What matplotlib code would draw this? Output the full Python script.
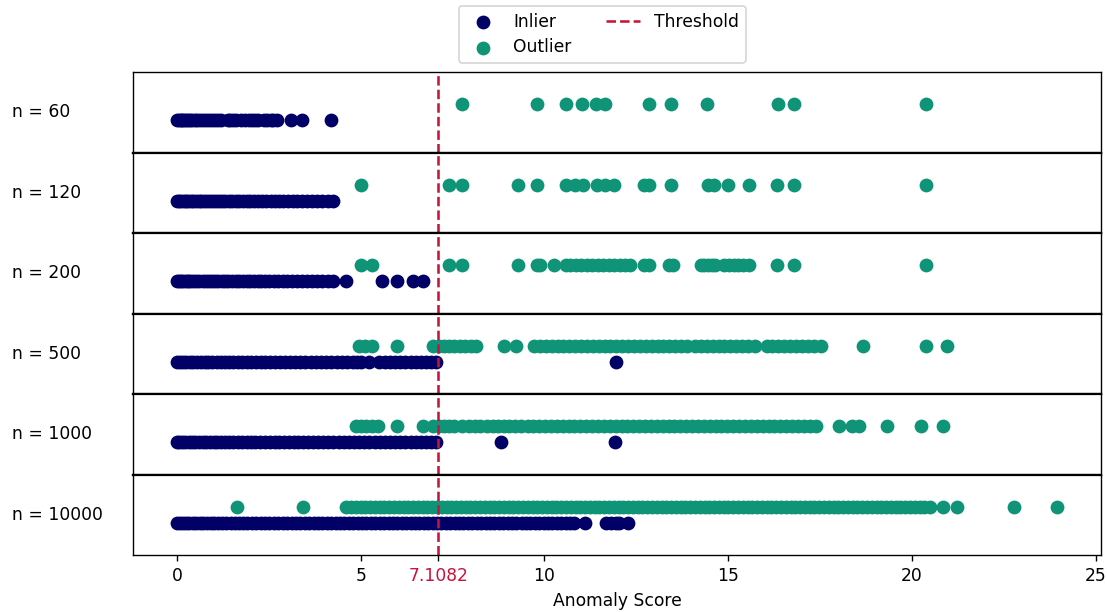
import matplotlib
matplotlib.use("Agg")
import matplotlib.pyplot as plt
import numpy as np

threshold = 7.1082
labels = ["n = 60", "n = 120", "n = 200", "n = 500", "n = 1000", "n = 10000"]

# anomaly scores per sample size, split by the predicted class
inl_60 = [0.0, 0.05, 0.1, 0.14, 0.2, 0.26, 0.3, 0.35, 0.42, 0.5, 0.55, 0.62, 0.7, 0.8, 0.88,
          0.95, 1.05, 1.12, 1.2, 1.38, 1.45, 1.52, 1.6, 1.75, 1.85, 1.95, 2.05, 2.12, 2.2,
          2.38, 2.45, 2.55, 2.62, 2.72, 3.1, 3.4, 4.2]
out_60 = [7.76, 9.79, 10.59, 11.03, 11.41, 11.65, 12.84, 13.44, 14.43, 16.35, 16.79, 20.38]

inl_120 = [0.0, 0.06, 0.12, 0.19, 0.25, 0.31, 0.38, 0.44, 0.52, 0.6, 0.67, 0.75, 0.83, 0.9,
           0.98, 1.07, 1.15, 1.24, 1.32, 1.41, 1.5, 1.6, 1.7, 1.8, 1.9, 2.0, 2.1, 2.2, 2.31,
           2.42, 2.55, 2.66, 2.78, 2.9, 3.02, 3.15, 3.28, 3.4, 3.55, 3.68, 3.82, 3.96, 4.1, 4.25]
out_120 = [5.0, 7.40, 7.76, 9.27, 9.79, 10.58, 10.83, 11.06, 11.42, 11.65, 11.9, 12.70, 12.84,
           13.45, 14.44, 14.62, 14.99, 15.58, 16.34, 16.79, 20.38]

inl_200 = [0.0, 0.05, 0.11, 0.17, 0.24, 0.3, 0.37, 0.45, 0.53, 0.61, 0.7, 0.78, 0.87, 0.95,
           1.04, 1.13, 1.22, 1.31, 1.4, 1.5, 1.6, 1.7, 1.8, 1.9, 2.0, 2.1, 2.2, 2.3, 2.41, 2.52,
           2.64, 2.76, 2.88, 3.0, 3.13, 3.26, 3.4, 3.54, 3.68, 3.82, 3.96, 4.1, 4.24, 4.59, 5.57,
           6.0, 6.42, 6.71]
out_200 = [5.0, 5.3, 7.40, 7.76, 9.27, 9.79, 9.87, 10.25, 10.58, 10.7, 10.85, 11.0, 11.15, 11.3,
           11.45, 11.6, 11.75, 11.9, 12.05, 12.2, 12.34, 12.70, 12.84, 13.39, 13.51, 14.25, 14.35,
           14.45, 14.55, 14.65, 14.9, 15.02, 15.15, 15.28, 15.4, 15.58, 16.34, 16.79, 20.38]

inl_500 = [0.0, 0.08, 0.17, 0.26, 0.35, 0.45, 0.55, 0.65, 0.76, 0.86, 0.97, 1.08, 1.19, 1.3,
           1.42, 1.54, 1.66, 1.78, 1.9, 2.02, 2.15, 2.28, 2.41, 2.54, 2.67, 2.8, 2.94, 3.08,
           3.22, 3.36, 3.5, 3.64, 3.78, 3.92, 4.06, 4.2, 4.35, 4.5, 4.64, 4.78, 4.9, 5.0, 5.22,
           5.5, 5.66, 5.8, 5.93, 6.08, 6.22, 6.36, 6.5, 6.64, 6.78, 6.92, 7.05, 11.95]
out_500 = [4.95, 5.12, 5.3, 6.0, 6.98, 7.12, 7.26, 7.4, 7.55, 7.7, 7.85, 8.0, 8.13, 8.9, 9.23,
           9.72, 9.88, 10.04, 10.2, 10.36, 10.52, 10.68, 10.84, 11.0, 11.16, 11.32, 11.48,
           11.64, 11.8, 11.96, 12.12, 12.28, 12.44, 12.6, 12.76, 12.92, 13.08, 13.24, 13.4,
           13.56, 13.72, 13.88, 14.1, 14.26, 14.42, 14.58, 14.74, 14.9, 15.06, 15.22, 15.38,
           15.54, 15.72, 16.05, 16.2, 16.36, 16.52, 16.68, 16.84, 17.0, 17.18, 17.34, 17.52,
           18.67, 20.38, 20.96]

inl_1000 = [0.0, 0.07, 0.15, 0.23, 0.32, 0.41, 0.5, 0.6, 0.7, 0.8, 0.9, 1.0, 1.1, 1.21, 1.32,
            1.43, 1.54, 1.66, 1.78, 1.9, 2.02, 2.14, 2.27, 2.4, 2.53, 2.66, 2.79, 2.92, 3.05,
            3.18, 3.31, 3.44, 3.57, 3.7, 3.84, 3.98, 4.12, 4.26, 4.4, 4.54, 4.68, 4.82, 4.96,
            5.1, 5.24, 5.38, 5.52, 5.66, 5.8, 5.94, 6.08, 6.22, 6.36, 6.5, 6.64, 6.78, 6.92,
            7.05, 8.81, 11.93]
out_1000 = [4.88, 5.02, 5.16, 5.3, 5.46, 6.0, 6.71, 6.98, 7.12, 7.26, 7.4, 7.53, 7.76, 7.95,
            8.1, 8.24, 8.45, 8.59, 8.74, 8.9, 9.05, 9.2, 9.36, 9.55, 9.7, 9.86, 10.02, 10.18,
            10.34, 10.5, 10.66, 10.82, 10.98, 11.14, 11.3, 11.46, 11.62, 11.78, 11.94, 12.1,
            12.26, 12.42, 12.58, 12.74, 12.9, 13.06, 13.22, 13.38, 13.54, 13.7, 13.86, 14.02,
            14.18, 14.34, 14.5, 14.66, 14.82, 14.98, 15.14, 15.3, 15.46, 15.62, 15.78, 15.94,
            16.1, 16.26, 16.42, 16.58, 16.74, 16.9, 17.06, 17.22, 17.4, 18.02, 18.37, 18.55,
            19.33, 20.26, 20.84]

inl_10000 = [0.0, 0.08, 0.16, 0.25, 0.34, 0.43, 0.52, 0.62, 0.72, 0.82, 0.92, 1.02, 1.13,
             1.24, 1.35, 1.46, 1.57, 1.68, 1.8, 1.92, 2.04, 2.16, 2.28, 2.4, 2.52, 2.64, 2.76,
             2.88, 3.0, 3.12, 3.24, 3.36, 3.48, 3.6, 3.72, 3.84, 3.96, 4.08, 4.2, 4.32, 4.44,
             4.56, 4.68, 4.8, 4.92, 5.04, 5.16, 5.28, 5.4, 5.52, 5.64, 5.76, 5.88, 6.0, 6.12,
             6.24, 6.36, 6.48, 6.6, 6.72, 6.84, 6.96, 7.08, 7.2, 7.32, 7.44, 7.56, 7.68, 7.8,
             7.92, 8.04, 8.16, 8.28, 8.4, 8.52, 8.64, 8.76, 8.88, 9.0, 9.12, 9.22, 9.38, 9.5,
             9.62, 9.74, 9.86, 9.98, 10.1, 10.22, 10.34, 10.46, 10.58, 10.7, 10.81, 11.1, 11.69,
             11.82, 11.95, 12.03, 12.27]
out_10000 = [1.64, 3.42, 4.61, 4.74, 4.87, 5.0, 5.13, 5.26, 5.39, 5.52, 5.65, 5.78, 5.91, 6.04,
             6.17, 6.3, 6.43, 6.56, 6.69, 6.82, 6.95, 7.08, 7.21, 7.34, 7.47, 7.6, 7.73, 7.86,
             7.99, 8.12, 8.25, 8.38, 8.51, 8.64, 8.77, 8.9, 9.03, 9.16, 9.29, 9.42, 9.55, 9.68,
             9.81, 9.94, 10.07, 10.2, 10.33, 10.46, 10.59, 10.72, 10.85, 10.98, 11.11, 11.24,
             11.37, 11.5, 11.63, 11.76, 11.89, 12.02, 12.15, 12.28, 12.41, 12.54, 12.67, 12.8,
             12.93, 13.06, 13.19, 13.32, 13.45, 13.58, 13.71, 13.84, 13.97, 14.1, 14.23, 14.36,
             14.49, 14.62, 14.75, 14.88, 15.01, 15.14, 15.27, 15.4, 15.53, 15.66, 15.79, 15.92,
             16.05, 16.18, 16.31, 16.44, 16.57, 16.7, 16.83, 16.96, 17.09, 17.22, 17.35, 17.48,
             17.61, 17.74, 17.87, 18.0, 18.13, 18.26, 18.39, 18.52, 18.65, 18.78, 18.91, 19.04,
             19.17, 19.3, 19.43, 19.56, 19.69, 19.82, 19.95, 20.08, 20.21, 20.34, 20.5, 20.84,
             21.24, 22.79, 23.95]

inliers = [inl_60, inl_120, inl_200, inl_500, inl_1000, inl_10000]
outliers = [out_60, out_120, out_200, out_500, out_1000, out_10000]

c_in = "#000066"
c_out = "#0f9478"
c_thr = "#c8143c"

fig, axes = plt.subplots(6, 1, sharex=True, figsize=(9, 4.976), dpi=123)
fig.subplots_adjust(left=0.12, right=0.9946, top=0.882, bottom=0.093, hspace=0)

for i, ax in enumerate(axes):
    h_in = ax.scatter(inliers[i], np.zeros(len(inliers[i])), color=c_in, s=50, label="Inlier")
    h_out = ax.scatter(outliers[i], np.ones(len(outliers[i])), color=c_out, s=50, label="Outlier")
    h_thr = ax.axvline(threshold, color=c_thr, linestyle="--", linewidth=1.5, label="Threshold")
    ax.set_ylim(-2, 3)
    ax.set_yticks([])
    ax.set_ylabel(labels[i], rotation=0, ha="left", va="center")
    ax.yaxis.set_label_coords(-0.125, 0.5)
    # the borders between panels read a little heavier
    if i > 0:
        ax.spines["top"].set_linewidth(1.3)
    if i < len(axes) - 1:
        ax.spines["bottom"].set_linewidth(1.3)
        ax.tick_params(axis="x", bottom=False)

bottom = axes[-1]
bottom.set_xticks([0, 5, threshold, 10, 15, 20, 25])
bottom.set_xticklabels(["0", "5", "7.1082", "10", "15", "20", "25"])
bottom.get_xticklabels()[2].set_color(c_thr)
bottom.set_xlabel("Anomaly Score")

fig.legend(handles=[h_in, h_out, h_thr], loc="upper center",
           bbox_to_anchor=(0.544, 1.004), ncol=2, labelspacing=0.42)

fig.savefig("out.png")
